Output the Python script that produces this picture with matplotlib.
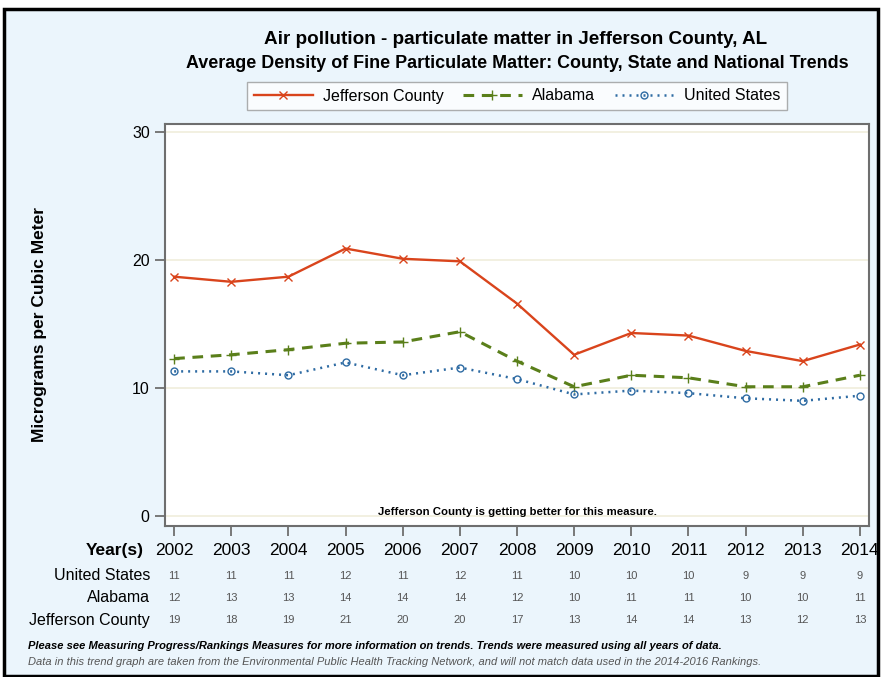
import matplotlib.pyplot as plt
from matplotlib.patches import Rectangle

years = [2002, 2003, 2004, 2005, 2006, 2007, 2008, 2009, 2010, 2011, 2012, 2013, 2014]
jefferson = [18.7, 18.3, 18.7, 20.9, 20.1, 19.9, 16.6, 12.6, 14.3, 14.1, 12.9, 12.1, 13.4]
alabama = [12.3, 12.6, 13.0, 13.5, 13.6, 14.4, 12.1, 10.1, 11.0, 10.8, 10.1, 10.1, 11.0]
us = [11.3, 11.3, 11.0, 12.0, 11.0, 11.6, 10.7, 9.5, 9.8, 9.6, 9.2, 9.0, 9.4]

# rounded values shown in the table under the chart
us_table = [11, 11, 11, 12, 11, 12, 11, 10, 10, 10, 9, 9, 9]
alabama_table = [12, 13, 13, 14, 14, 14, 12, 10, 11, 11, 10, 10, 11]
jefferson_table = [19, 18, 19, 21, 20, 20, 17, 13, 14, 14, 13, 12, 13]
yticks = [0, 10, 20, 30]

plt.rcParams['font.family'] = ['Liberation Sans', 'DejaVu Sans']

W, H = 882, 677
fig = plt.figure(figsize=(W / 100, H / 100), dpi=100, facecolor='white')

# light blue panel with black frame
fig.patches.append(Rectangle((4 / W, 1 / H), 874 / W, 667 / H, transform=fig.transFigure,
                             facecolor='#EBF5FC', edgecolor='black', lw=2.5, zorder=-10))

ax = fig.add_axes([165 / W, 1 - 526 / H, 704 / W, 402 / H])
ax.set_facecolor('white')

red = '#D9441C'
green = '#5A7F1A'
blue = '#2E6BA3'

ax.plot(years, jefferson, color=red, lw=1.7, marker='x', ms=6, mew=1.0,
        label='Jefferson County', zorder=3)
ax.plot(years, alabama, color=green, lw=2.2, ls=(0, (3.5, 2.5)), marker='+', ms=7, mew=1.0,
        label='Alabama', zorder=3)
ax.plot(years, us, color=blue, lw=1.8, ls=(0, (0.8, 2.0)), marker='o', ms=5, mew=1.0,
        mfc='none', label='United States', zorder=3)

ax.set_xlim(2001.84, 2014.16)
ax.set_ylim(-0.78, 30.63)
ax.set_yticks(yticks)
ax.set_yticklabels([str(v) for v in yticks], fontsize=11.5)
ax.set_xticks(years)
ax.set_xticklabels([])
for v in yticks:
    ax.axhline(v, color='#F0EEDB', lw=1.2, zorder=1)

for s in ax.spines.values():
    s.set_color('#6E6E6E')
    s.set_linewidth(1.5)
ax.tick_params(axis='both', direction='out', length=7, width=1.3, color='#6E6E6E', pad=4)

ax.set_ylabel('Micrograms per Cubic Meter', fontsize=12.5, fontweight='bold')
ax.yaxis.set_label_coords(-0.168, 0.5)

ax.text(0.5, 0.035, 'Jefferson County is getting better for this measure.', transform=ax.transAxes,
        ha='center', va='center', fontsize=8.2, fontweight='bold')

# title and subtitle
fig.text(516 / W, 1 - 40 / H, 'Air pollution - particulate matter in Jefferson County, AL',
         ha='center', va='center', fontsize=13.6, fontweight='bold')
fig.text(517 / W, 1 - 63 / H, 'Average Density of Fine Particulate Matter: County, State and National Trends',
         ha='center', va='center', fontsize=12.85, fontweight='bold')

leg = fig.legend(loc='center', bbox_to_anchor=(517 / W, 1 - 96 / H), ncol=3, fontsize=11.5,
                 frameon=True, fancybox=False, edgecolor='#9A9A9A', handlelength=3.7,
                 columnspacing=1.2, handletextpad=0.65, borderpad=0.4)
leg.get_frame().set_linewidth(1.0)

# table under the axis
trans = ax.get_xaxis_transform()
row_y = {'year': -0.062, 'us': -0.124, 'al': -0.179, 'jc': -0.234}
fig.text(144 / W, 1 - 551 / H, 'Year(s)', ha='right', va='center', fontsize=12.5, fontweight='bold')
for lbl, py in [('United States', 576), ('Alabama', 598), ('Jefferson County', 620)]:
    fig.text(150 / W, 1 - py / H, lbl, ha='right', va='center', fontsize=11.5)
for i, yr in enumerate(years):
    ax.text(yr, row_y['year'], str(yr), transform=trans, ha='center', va='center', fontsize=12.5)
    ax.text(yr, row_y['us'], str(us_table[i]), transform=trans, ha='center', va='center',
            fontsize=8, color='#555555')
    ax.text(yr, row_y['al'], str(alabama_table[i]), transform=trans, ha='center', va='center',
            fontsize=8, color='#555555')
    ax.text(yr, row_y['jc'], str(jefferson_table[i]), transform=trans, ha='center', va='center',
            fontsize=8, color='#555555')

fig.text(28 / W, 1 - 646 / H,
         'Please see Measuring Progress/Rankings Measures for more information on trends. '
         'Trends were measured using all years of data.',
         ha='left', va='center', fontsize=8.05, fontweight='bold', style='italic')
fig.text(28 / W, 1 - 662 / H,
         'Data in this trend graph are taken from the Environmental Public Health Tracking Network, '
         'and will not match data used in the 2014-2016 Rankings.',
         ha='left', va='center', fontsize=8, style='italic', color='#555555')

fig.savefig('out.png', dpi=100, facecolor=fig.get_facecolor())
